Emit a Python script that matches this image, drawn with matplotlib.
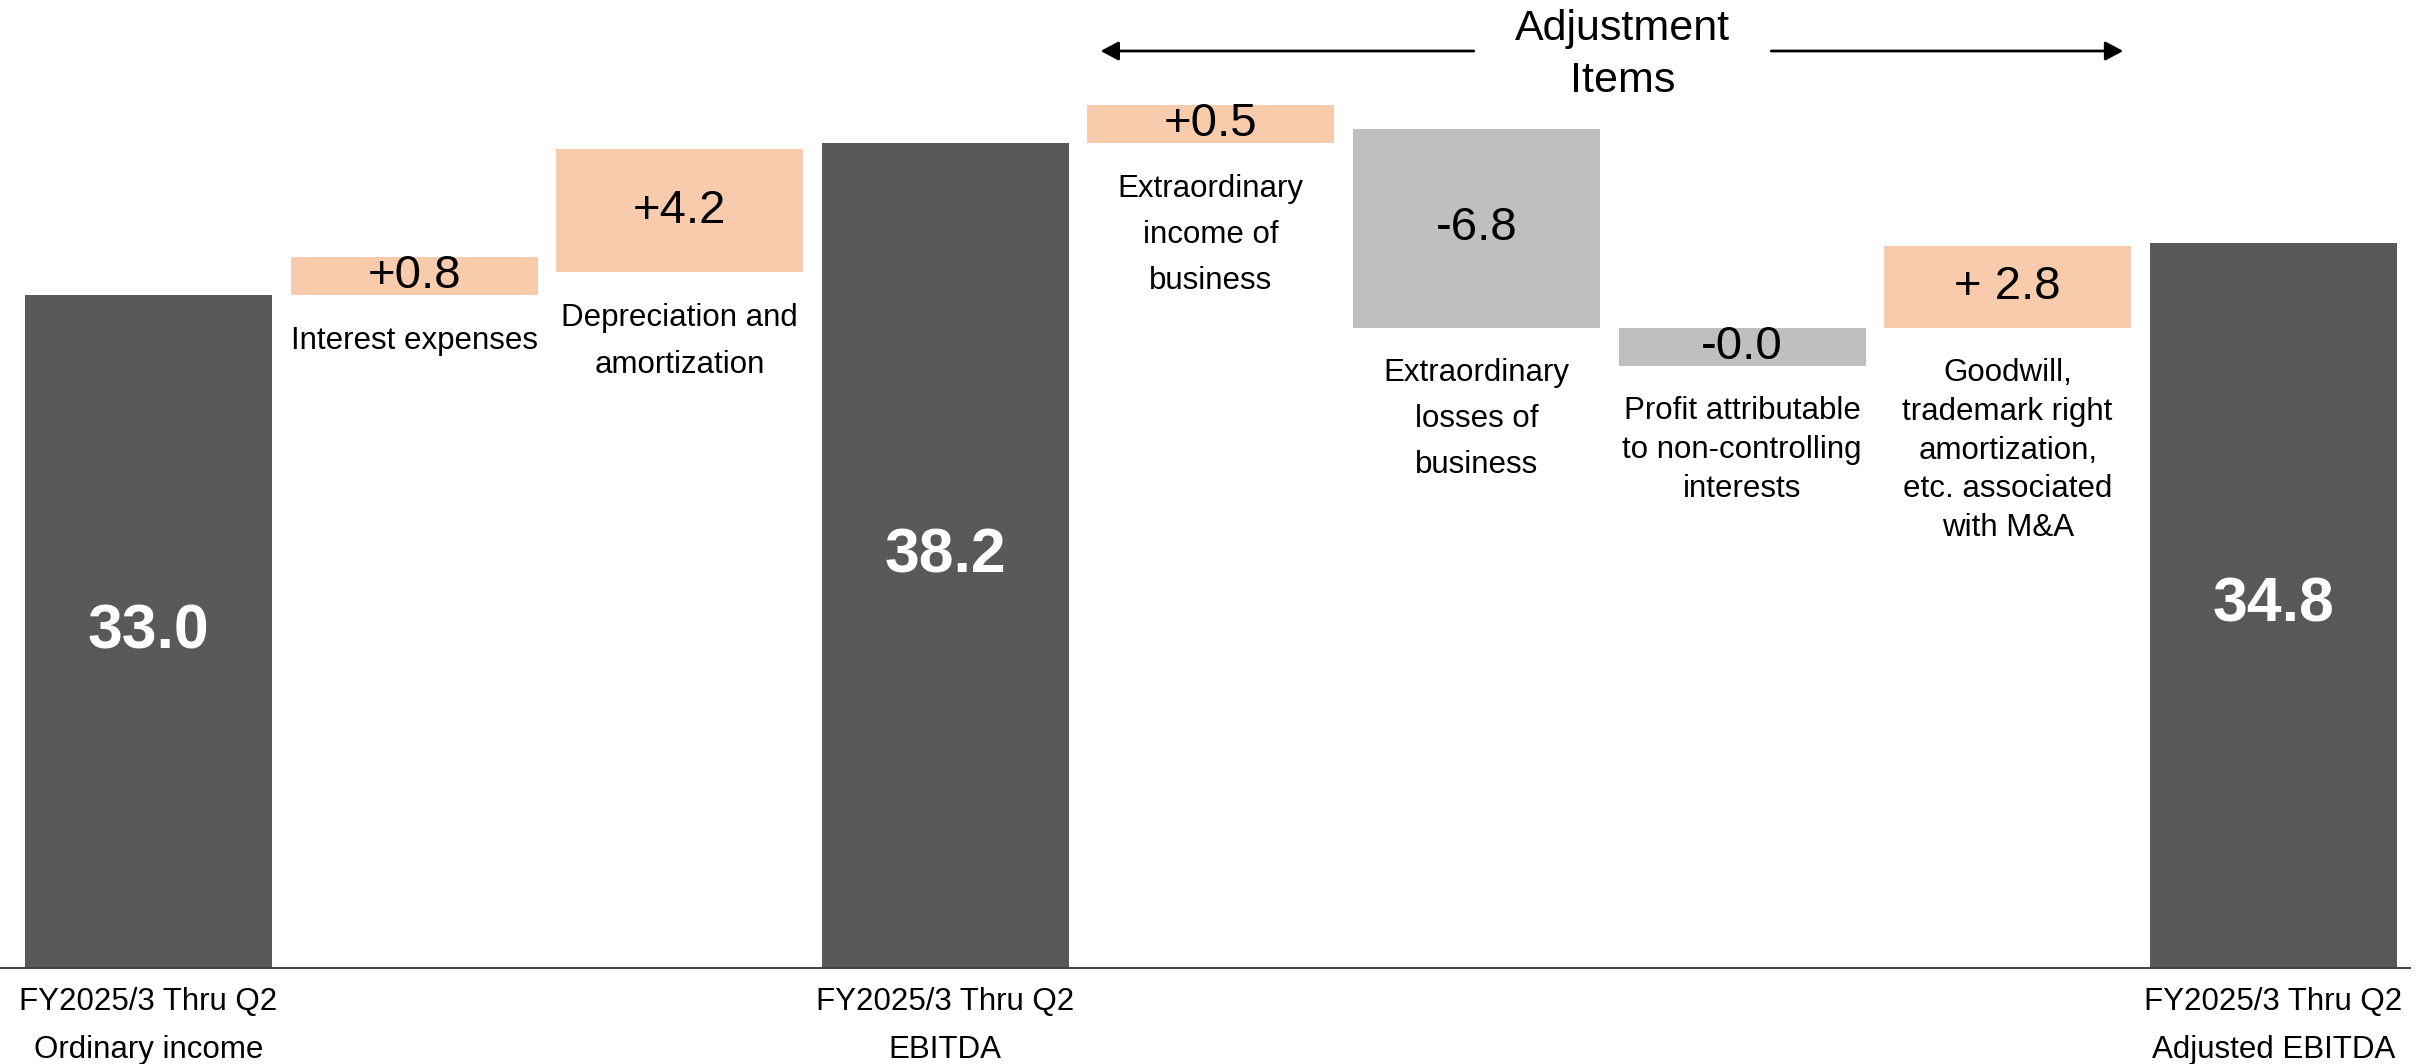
import numpy as np
import matplotlib
matplotlib.use("Agg")
import matplotlib.pyplot as plt
import matplotlib.transforms as mtransforms

plt.rcParams['font.family'] = ['Liberation Sans', 'DejaVu Sans']

# ---------------- data ----------------
CATEGORIES = [
    "FY2025/3 Thru Q2\nOrdinary income",
    "Interest expenses",
    "Depreciation and\namortization",
    "FY2025/3 Thru Q2\nEBITDA",
    "Extraordinary\nincome of\nbusiness",
    "Extraordinary\nlosses of\nbusiness",
    "Profit attributable\nto non-controlling\ninterests",
    "Goodwill,\ntrademark right\namortization,\netc. associated\nwith M&A",
    "FY2025/3 Thru Q2\nAdjusted EBITDA",
]
KINDS = ["total", "delta", "delta", "total", "delta", "delta", "delta", "delta", "total"]
VALUES = [33.0, 0.8, 4.2, 38.2, 0.5, -6.8, -0.0, 2.8, 34.8]
VALUE_LABELS = ["33.0", "+0.8", "+4.2", "38.2", "+0.5", "-6.8", "-0.0", "+ 2.8", "34.8"]
BRACKET_TEXT = "Adjustment\nItems"
BRACKET_FIRST, BRACKET_LAST = 4, 7

# ---------------- style ----------------
DARK = "#595959"
PEACH = "#F8CBAD"
GRAY = "#BFBFBF"
FLOOR = 10.0          # value at the drawn baseline (axis is truncated)
MIN_H = 1.3           # minimum drawn height of a small step bar
BAR_W = 0.93
LABEL_FS = 22.5
VALUE_FS = 34
TOTAL_FS = 45
LINESP = [1.8, 1.38, 1.76, 1.8, 1.69, 1.69, 1.38, 1.38, 1.8]

fig = plt.figure(figsize=(24.22, 10.64), dpi=100)
ax = fig.add_axes([0, 0, 1, 1])
ax.axis("off")
ax.set_xlim(-0.559, 8.560)
ax.set_ylim(6.717, 43.105)

x = np.arange(len(VALUES))
level = 0.0
for i, (kind, v) in enumerate(zip(KINDS, VALUES)):
    if kind == "total":
        ax.bar(x[i], v - FLOOR, bottom=FLOOR, width=BAR_W, color=DARK, linewidth=0)
        ax.text(x[i], (FLOOR + v) / 2, VALUE_LABELS[i], ha="center", va="center",
                color="white", fontsize=TOTAL_FS, fontweight="bold")
        ax.annotate(CATEGORIES[i], xy=(x[i], FLOOR), xytext=(0, -13.5),
                    textcoords="offset points", ha="center", va="top",
                    fontsize=LABEL_FS, linespacing=LINESP[i], color="black")
        level = v
    else:
        sign = np.copysign(1.0, v)
        h = max(abs(v), MIN_H)
        start = level
        end_drawn = start + sign * h
        lo, hi = min(start, end_drawn), max(start, end_drawn)
        color = PEACH if sign > 0 else GRAY
        ax.bar(x[i], hi - lo, bottom=lo, width=BAR_W, color=color, linewidth=0)
        ax.text(x[i], (lo + hi) / 2, VALUE_LABELS[i], ha="center", va="center",
                color="black", fontsize=VALUE_FS)
        ax.annotate(CATEGORIES[i], xy=(x[i], lo), xytext=(0, -22),
                    textcoords="offset points", ha="center", va="top",
                    fontsize=LABEL_FS, linespacing=LINESP[i], color="black")
        level = start + v

# baseline
ax.axhline(FLOOR, xmin=0, xmax=2410 / 2422, color="#404040", lw=1.4)

# adjustment bracket with arrows
trans = mtransforms.blended_transform_factory(ax.transData, ax.transAxes)
y_arrow = 1 - 51 / 1064
y_text = 1 - 55 / 1064
left_end = x[BRACKET_FIRST] - BAR_W / 2 + 0.05
right_end = x[BRACKET_LAST] + BAR_W / 2 - 0.03
txt_x = 5.55
gap = 0.56
arrow_kw = dict(arrowstyle="-|>,head_length=0.6,head_width=0.32", lw=2.0,
                color="black", shrinkA=0, shrinkB=0, mutation_scale=18)
ax.annotate("", xy=(left_end, y_arrow), xytext=(txt_x - gap, y_arrow),
            xycoords=trans, textcoords=trans, arrowprops=arrow_kw)
ax.annotate("", xy=(right_end, y_arrow), xytext=(txt_x + gap, y_arrow),
            xycoords=trans, textcoords=trans, arrowprops=arrow_kw)
ax.text(txt_x, y_text, BRACKET_TEXT, transform=trans, ha="center", va="center",
        fontsize=31, linespacing=1.38, color="black")

fig.savefig("out.png", dpi=100)
